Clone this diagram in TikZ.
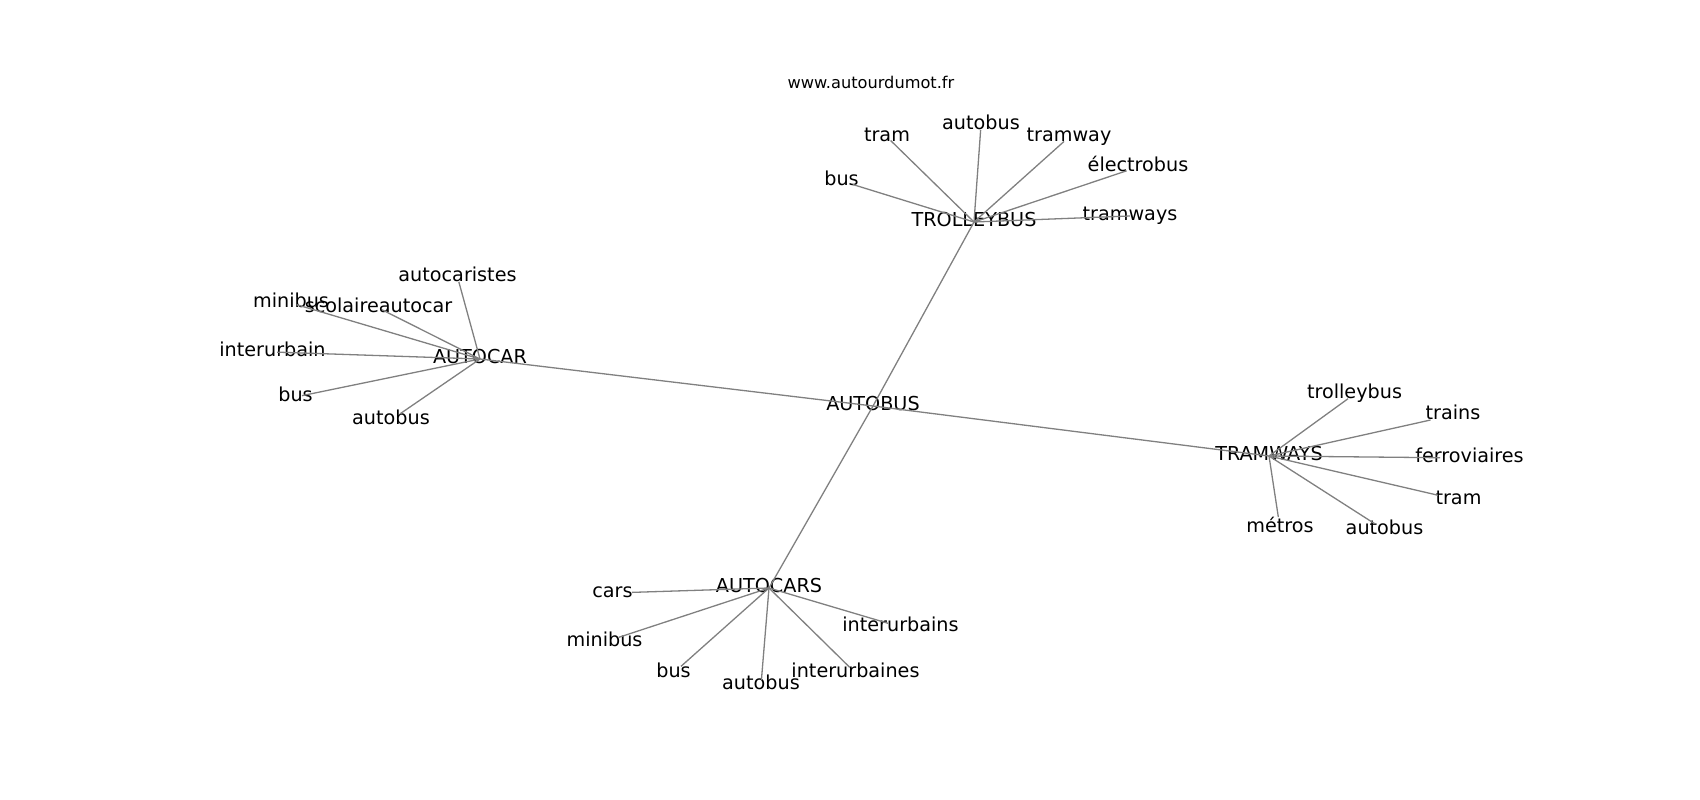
\documentclass[tikz,border=0pt]{standalone}
\usepackage{fontspec}
\setmainfont{DejaVu Sans}
\tikzset{
	word/.style={inner sep=0pt, text height=0.9em, text depth=0.06em, font=\fontsize{19.2}{23}\selectfont},
	site/.style={word, font=\fontsize{16.2}{19}\selectfont},
	edge/.style={draw=black!50, line width=1.3pt},
}
\begin{document}
\begin{tikzpicture}[x=1pt, y=-1pt]
			%%%%% START %%%%%
			\useasboundingbox (0, 0) rectangle (1700, 800);
			
			\node[site] (url) at (871, 84) {www.autourdumot.fr};
			
			\node[word] (autobus) at (873, 406) {AUTOBUS};
			\node[word] (trolleybus) at (974, 222) {TROLLEYBUS};
			\node[word] (autocar) at (480, 359) {AUTOCAR};
			\node[word] (tramways) at (1269, 456) {TRAMWAYS};
			\node[word] (autocars) at (769, 588) {AUTOCARS};
			
			\node[word] (tb-bus) at (841.5, 181) {bus};
			\node[word] (tb-tram) at (887, 137) {tram};
			\node[word] (tb-autobus) at (981, 125) {autobus};
			\node[word] (tb-tramway) at (1069, 137) {tramway};
			\node[word] (tb-electrobus) at (1138, 167) {électrobus};
			\node[word] (tb-tramways) at (1130, 216) {tramways};
			
			\node[word] (ac-autocaristes) at (457.5, 277) {autocaristes};
			\node[word] (ac-minibus) at (291, 303) {minibus};
			\node[word] (ac-scolaire) at (378.5, 308) {scolaireautocar};
			\node[word] (ac-interurbain) at (272.5, 352) {interurbain};
			\node[word] (ac-bus) at (295.5, 397) {bus};
			\node[word] (ac-autobus) at (391, 420) {autobus};
			
			\node[word] (tw-trolleybus) at (1354.5, 394) {trolleybus};
			\node[word] (tw-trains) at (1453, 415) {trains};
			\node[word] (tw-ferroviaires) at (1469.5, 458) {ferroviaires};
			\node[word] (tw-tram) at (1458.5, 500) {tram};
			\node[word] (tw-metros) at (1280, 528) {métros};
			\node[word] (tw-autobus) at (1384.5, 530) {autobus};
			
			\node[word] (acs-cars) at (612.5, 593) {cars};
			\node[word] (acs-minibus) at (604.5, 642) {minibus};
			\node[word] (acs-interurbains) at (900.5, 627) {interurbains};
			\node[word] (acs-bus) at (673.5, 673) {bus};
			\node[word] (acs-autobus) at (761, 685) {autobus};
			\node[word] (acs-interurbaines) at (855.5, 673) {interurbaines};
			
			\draw[edge] (autobus.center) -- (trolleybus.center);
			\draw[edge] (autobus.center) -- (autocar.center);
			\draw[edge] (autobus.center) -- (tramways.center);
			\draw[edge] (autobus.center) -- (autocars.center);
			
			\draw[edge, shorten >=11.7pt] (trolleybus.center) -- (tb-bus.center);
			\draw[edge, shorten >=5pt] (trolleybus.center) -- (tb-tram.center);
			\draw[edge, shorten >=5pt] (trolleybus.center) -- (tb-autobus.center);
			\draw[edge, shorten >=6.7pt] (trolleybus.center) -- (tb-tramway.center);
			\draw[edge, shorten >=12pt] (trolleybus.center) -- (tb-electrobus.center);
			\draw[edge] (trolleybus.center) -- (tb-tramways.center);
			
			\draw[edge, shorten >=5pt] (autocar.center) -- (ac-autocaristes.center);
			\draw[edge, shorten >=6pt] (autocar.center) -- (ac-minibus.center);
			\draw[edge, shorten >=4pt] (autocar.center) -- (ac-scolaire.center);
			\draw[edge, shorten >=4.6pt] (autocar.center) -- (ac-interurbain.center);
			\draw[edge, shorten >=6.6pt] (autocar.center) -- (ac-bus.center);
			\draw[edge, shorten >=11pt] (autocar.center) -- (ac-autobus.center);
			
			\draw[edge, shorten >=8pt] (tramways.center) -- (tw-trolleybus.center);
			\draw[edge, shorten >=23pt] (tramways.center) -- (tw-trains.center);
			\draw[edge, shorten >=29.5pt] (tramways.center) -- (tw-ferroviaires.center);
			\draw[edge, shorten >=21pt] (tramways.center) -- (tw-tram.center);
			\draw[edge, shorten >=11pt] (tramways.center) -- (tw-metros.center);
			\draw[edge, shorten >=12pt] (tramways.center) -- (tw-autobus.center);
			
			\draw[edge, shorten >=19.5pt] (autocars.center) -- (acs-cars.center);
			\draw[edge, shorten >=15pt] (autocars.center) -- (acs-minibus.center);
			\draw[edge, shorten >=13pt] (autocars.center) -- (acs-interurbains.center);
			\draw[edge, shorten >=10pt] (autocars.center) -- (acs-bus.center);
			\draw[edge, shorten >=5pt] (autocars.center) -- (acs-autobus.center);
			\draw[edge, shorten >=8pt] (autocars.center) -- (acs-interurbaines.center);
			
			%%%%% END %%%%%
\end{tikzpicture}
\end{document}
